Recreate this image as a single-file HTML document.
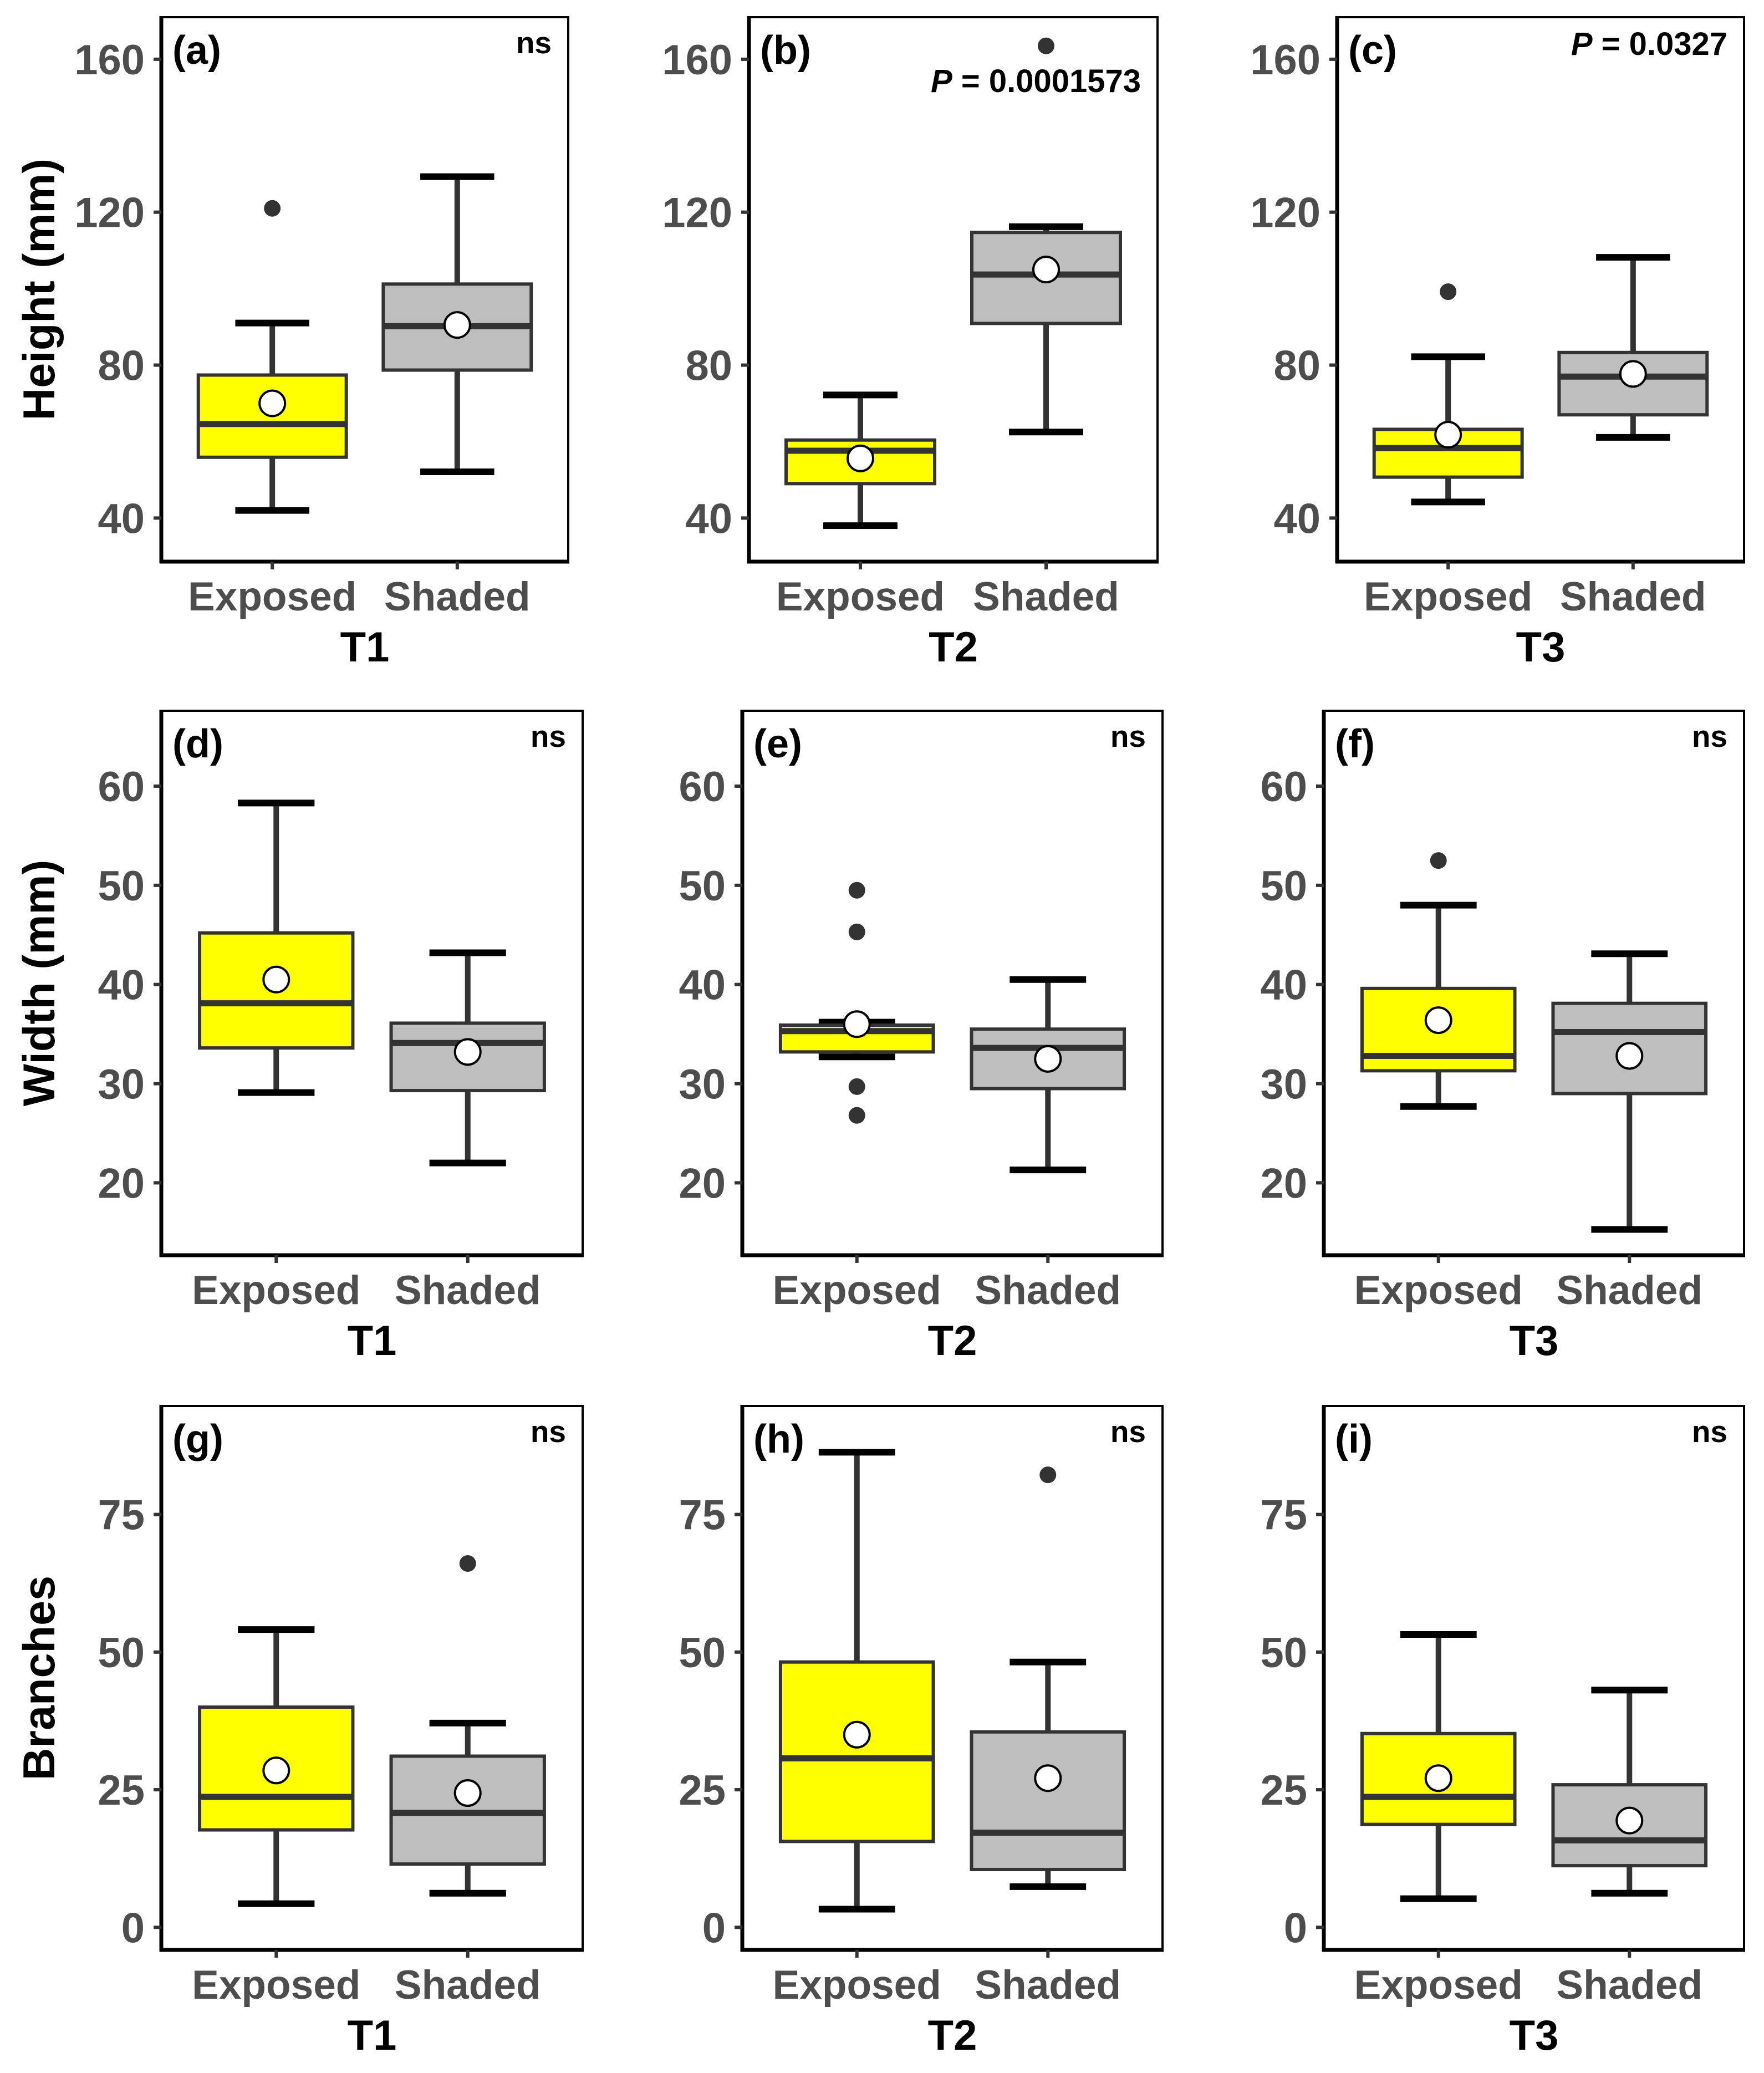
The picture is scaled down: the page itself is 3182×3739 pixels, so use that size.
<!DOCTYPE html>
<html><head><meta charset="utf-8"><style>
html,body{margin:0;padding:0;background:#fff}
svg{display:block}
text{font-family:"Liberation Sans",Arial,sans-serif;font-weight:bold}
</style></head><body>
<svg id="chart" width="3182" height="3739" viewBox="0 0 3182 3739" xmlns="http://www.w3.org/2000/svg"></svg>
<script>
// ---- data ----
const categories = ["Exposed", "Shaded"];
const panelLetters = ["(a)","(b)","(c)","(d)","(e)","(f)","(g)","(h)","(i)"];
const panelTimes = ["T1","T2","T3","T1","T2","T3","T1","T2","T3"];
const panelSig = ["ns","P = 0.0001573","P = 0.0327","ns","ns","ns","ns","ns","ns"];
const rowTitles = ["Height (mm)", "Width (mm)", "Branches"];
const rowTicks = [[40,80,120,160],[20,30,40,50,60],[0,25,50,75]];
const rowDomains = [[28.6,171],[12.7,67.6],[-4.1,94.7]];
// per panel, per category: [whiskLow, q1, median, q3, whiskHigh]
const boxStats = [
  [[42,55.9,64.6,77.4,91],[52.1,78.7,90.2,101.2,129.3]],
  [[38,49,57.6,60.4,72.2],[62.5,90.9,103.7,114.7,116.2]],
  [[44.2,50.7,58.3,63.2,82.2],[61.1,67,77,83.3,108.2]],
  [[29.1,33.6,38.1,45.2,58.3],[22,29.3,34.1,36.1,43.2]],
  [[32.7,33.2,35.3,35.9,36.2],[21.3,29.5,33.6,35.5,40.5]],
  [[27.7,31.3,32.8,39.6,48],[15.3,29,35.2,38.1,43.1]],
  [[4.3,17.7,23.7,40,54.1],[6.2,11.5,20.8,31.1,37.1]],
  [[3.3,15.6,30.7,48.2,86.3],[7.4,10.5,17.2,35.5,48.2]],
  [[5.2,18.7,23.7,35.2,53.2],[6.2,11.2,15.8,25.9,43.1]]
];
const means = [[70,90.5],[55.6,105],[61.8,77.7],[40.5,33.2],[36,32.5],[36.4,32.8],[28.5,24.4],[35,27.1],[27.1,19.4]];
const outliers = [[[121],[]],[[],[163.5]],[[99.2],[]],[[],[]],[[49.5,45.3,29.7,26.8],[]],[[52.5],[]],[[],[66.1]],[[],[82.2]],[[],[]]];
const fills = ["#ffff00", "#bebebe"];

// ---- layout ----
const rowY = [[31,1013],[1282,2264],[2536,3517]];
const colX = [[[291,1025],[1351,2088],[2412,3146]],[[291,1051],[1339,2097],[2388,3146]],[[291,1051],[1339,2097],[2388,3146]]];
const svg = document.getElementById('chart');
const NS = "http://www.w3.org/2000/svg";
function mk(tag, attrs, parent){const e=document.createElementNS(NS,tag);for(const k in attrs)e.setAttribute(k,attrs[k]);(parent||svg).appendChild(e);return e;}

for(let r=0;r<3;r++){
  const [top,bot]=rowY[r];
  const [d0,d1]=rowDomains[r];
  const yS=v=>bot-(v-d0)/(d1-d0)*(bot-top);
  const tt=mk('text',{x:0,y:0,'font-size':81,fill:'#000','text-anchor':'middle',transform:`translate(98,${(top+bot)/2}) rotate(-90)`});
  
  
  tt.textContent=rowTitles[r];
  for(let c=0;c<3;c++){
    const p=r*3+c;
    const [L,R]=colX[r][c];
    const xS=i=>L+(i+1-0.4)/2.2*(R-L);
    const bw=0.8*(R-L)/2.2, cw=0.4*(R-L)/2.2;
    const g=mk('g',{});
    
    
    mk('rect',{x:L,y:top,width:R-L,height:bot-top,fill:'#fff',stroke:'#000','stroke-width':4},g);
    mk('line',{x1:L,y1:top-2,x2:L,y2:bot+3,stroke:'#000','stroke-width':7},g);
    mk('line',{x1:L-3,y1:bot,x2:R+2,y2:bot,stroke:'#000','stroke-width':7},g);
    rowTicks[r].forEach(t=>{
      mk('line',{x1:L-14,y1:yS(t),x2:L,y2:yS(t),stroke:'#333','stroke-width':6},g);
      const tl=mk('text',{x:L-30,y:yS(t)+27,'font-size':76,fill:'#4d4d4d','text-anchor':'end'},g);
      
      
      tl.textContent=t;
    });
    for(let i=0;i<2;i++){
      const s=boxStats[p][i], x=xS(i);
      mk('line',{x1:x,y1:bot,x2:x,y2:bot+14,stroke:'#333','stroke-width':6},g);
      const cl=mk('text',{x:x,y:bot+88,'font-size':73,fill:'#4d4d4d','text-anchor':'middle'},g);
      
      
      cl.textContent=categories[i];
      mk('line',{x1:x,y1:yS(s[0]),x2:x,y2:yS(s[4]),stroke:'#333','stroke-width':10},g);
      mk('line',{x1:x-cw/2,y1:yS(s[0]),x2:x+cw/2,y2:yS(s[0]),stroke:'#000','stroke-width':12},g);
      mk('line',{x1:x-cw/2,y1:yS(s[4]),x2:x+cw/2,y2:yS(s[4]),stroke:'#000','stroke-width':12},g);
      const b=mk('rect',{x:x-bw/2,y:yS(s[3]),width:bw,height:yS(s[1])-yS(s[3]),fill:fills[i],stroke:'#333','stroke-width':6},g);
      
      
      mk('line',{x1:x-bw/2,y1:yS(s[2]),x2:x+bw/2,y2:yS(s[2]),stroke:'#333','stroke-width':11},g);
      outliers[p][i].forEach(v=>{
        const o=mk('circle',{cx:x,cy:yS(v),r:15,fill:'#333'},g);
        
        
      });
      const m=mk('circle',{cx:x,cy:yS(means[p][i]),r:23,fill:'#fff',stroke:'#000','stroke-width':4},g);
      
      
    }
    const lt=mk('text',{x:L+20,y:top+84,'font-size':72,fill:'#000'},g);
    
    
    lt.textContent=panelLetters[p];
    const sg=mk('text',{x:R-30,y:panelSig[p]==='ns'?top+65:top+(p===1?135:68),'font-size':panelSig[p]==='ns'?55:58,fill:'#000','text-anchor':'end'},g);
    
    
    if(panelSig[p].startsWith('P')){
      const a=mk('tspan',{'font-style':'italic'},sg);a.textContent='P';
      const b2=mk('tspan',{},sg);b2.textContent=panelSig[p].slice(1);
    } else sg.textContent=panelSig[p];
    const xt=mk('text',{x:(L+R)/2,y:bot+180,'font-size':76,fill:'#000','text-anchor':'middle'},g);
    
    
    xt.textContent=panelTimes[p];
  }
}
</script>
</body></html>
